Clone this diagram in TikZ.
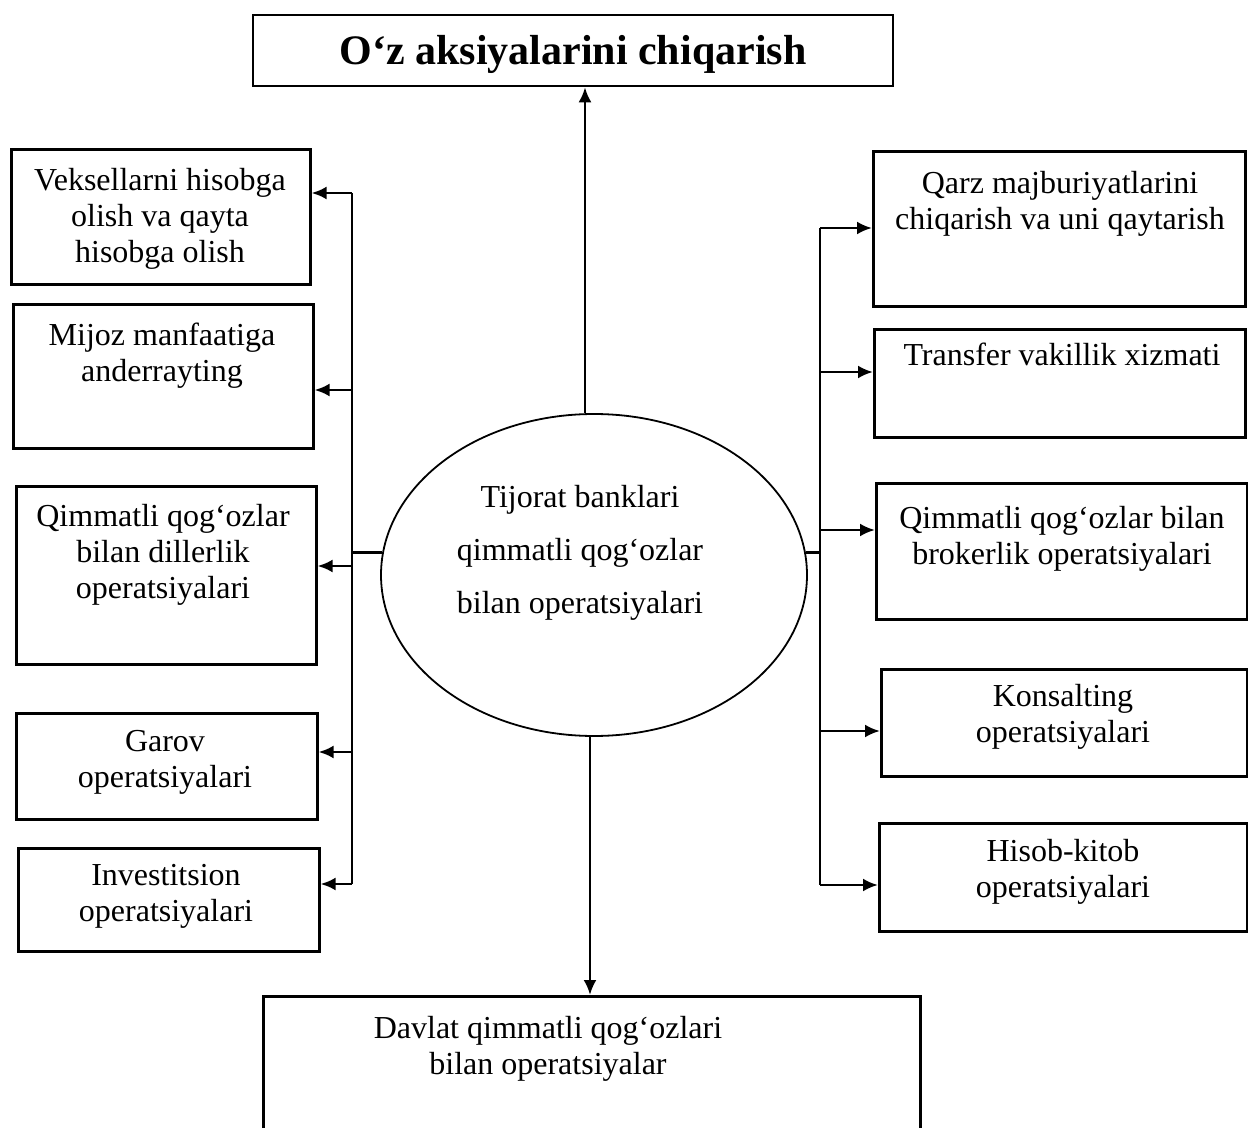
\documentclass[tikz,border=0pt]{standalone}
\usepackage{fontspec}
\setmainfont{Liberation Serif}
\usetikzlibrary{arrows.meta,shapes.geometric}
% rectangle from its top-left to its bottom-right corner, in pixel units
\newcommand\mkbox[5]{\node[opbox,minimum width={(#4-#2)*0.5pt},minimum height={(#5-#3)*0.5pt}] (#1) at (#2,#3) {};}
\begin{document}
\begin{tikzpicture}[x=0.5pt,y=-0.5pt,
  line/.style={line width=1.3pt},
  arr/.style={line width=1.3pt,-{Latex[length=7.5pt,width=6.5pt]}},
  opbox/.style={draw,line width=1.3pt,inner sep=0pt,anchor=north west},
  optext/.style={anchor=north,inner sep=0pt,align=center,font=\fontsize{16}{18}\selectfont},
]
\clip (0,0) rectangle (1248,1128);
\fill[white] (0,0) rectangle (1248,1128);

% title box
\node[draw,line width=1.3pt,minimum width={640*0.5pt},minimum height={71*0.5pt}] (top) at (573,50.5) {};
\node[inner sep=0pt,font=\bfseries\fontsize{21}{24}\selectfont] (title) at (573,54) {O‘z aksiyalarini chiqarish};

% central ellipse
\node[draw,ellipse,line width=0.9pt,minimum width={426*0.5pt},minimum height={322*0.5pt}] (ell) at (594,575) {};
\node[optext,font=\fontsize{16}{26.5}\selectfont] (elltext) at (580,485)
  {Tijorat banklari\\qimmatli qog‘ozlar\\bilan operatsiyalari};

% left boxes
\mkbox{b1}{10}{148}{309}{283}
\mkbox{b2}{12}{303}{312}{447}
\mkbox{b3}{15}{485}{315}{663}
\mkbox{b4}{15}{712}{316}{818}
\mkbox{b5}{17}{847}{318}{950}
% right boxes
\mkbox{r1}{872}{150}{1244}{305}
\mkbox{r2}{873}{328}{1244}{436}
\mkbox{r3}{875}{482}{1246}{618}
\mkbox{r4}{880}{668}{1246}{775}
\mkbox{r5}{878}{822}{1246}{930}
% bottom box (runs past the lower edge)
\mkbox{dbox}{262}{995}{919}{1160}

% box texts
\node[optext] (tb1) at (160,168) {Veksellarni hisobga\\olish va qayta\\hisobga olish};
\node[optext] (tb2) at (162,323) {Mijoz manfaatiga\\anderrayting};
\node[optext] (tb3) at (163,504) {Qimmatli qog‘ozlar\\bilan dillerlik\\operatsiyalari};
\node[optext] (tb4) at (165,730) {Garov\\operatsiyalari};
\node[optext] (tb5) at (166,864) {Investitsion\\operatsiyalari};
\node[optext] (tr1) at (1060,171) {Qarz majburiyatlarini\\chiqarish va uni qaytarish};
\node[optext] (tr2) at (1062,343) {Transfer vakillik xizmati};
\node[optext] (tr3) at (1062,506) {Qimmatli qog‘ozlar bilan\\brokerlik operatsiyalari};
\node[optext] (tr4) at (1063,684) {Konsalting\\operatsiyalari};
\node[optext] (tr5) at (1063,839) {Hisob-kitob\\operatsiyalari};
\node[optext] (td) at (548,1016) {Davlat qimmatli qog‘ozlari\\bilan operatsiyalar};

% vertical arrows
\coordinate (upx) at (585,0);
\coordinate (dnx) at (590,0);
\draw[arr] (ell.north -| upx) -- (top.south -| upx);
\draw[arr] (ell.south -| dnx) -- (dbox.north -| dnx);

% left distribution line
\coordinate (L1) at (352,193);
\coordinate (L2) at (352,390);
\coordinate (L3) at (352,566);
\coordinate (L4) at (352,752);
\coordinate (L5) at (352,884);
\draw[line] (ell.174) -- (ell.174 -| L1);
\draw[line] (L1) -- (L5);
\draw[arr] (L1) -- (L1 -| b1.east);
\draw[arr] (L2) -- (L2 -| b2.east);
\draw[arr] (L3) -- (L3 -| b3.east);
\draw[arr] (L4) -- (L4 -| b4.east);
\draw[arr] (L5) -- (L5 -| b5.east);

% right distribution line
\coordinate (R1) at (820,228);
\coordinate (R2) at (820,372);
\coordinate (R3) at (820,530);
\coordinate (R4) at (820,731);
\coordinate (R5) at (820,885);
\draw[line] (ell.6) -- (ell.6 -| R1);
\draw[line] (R1) -- (R5);
\draw[arr] (R1) -- (R1 -| r1.west);
\draw[arr] (R2) -- (R2 -| r2.west);
\draw[arr] (R3) -- (R3 -| r3.west);
\draw[arr] (R4) -- (R4 -| r4.west);
\draw[arr] (R5) -- (R5 -| r5.west);
\end{tikzpicture}
\end{document}
